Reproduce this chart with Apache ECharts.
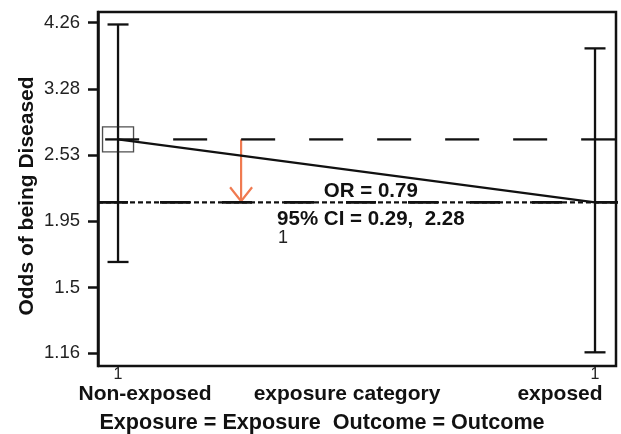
<!DOCTYPE html>
<html>
<head>
<meta charset="utf-8">
<script src="https://cdn.jsdelivr.net/npm/echarts@6/dist/echarts.min.js"></script>
<style>
html,body{margin:0;padding:0;background:#fff;}
#chart{width:621px;height:434px;}
</style>
</head>
<body>
<div id="chart"></div>
<script>
// ---- data ----
const categories = ['Non-exposed', 'exposed'];
const categoryX = [1, 2];
const odds = [2.69, 2.10];          // point estimates (odds of being diseased)
const ciLow = [1.66, 1.163];        // lower 95% limits
const ciHigh = [4.23, 3.85];        // upper 95% limits
const yTicks = [1.16, 1.5, 1.95, 2.53, 3.28, 4.26];
const yRange = [1.102, 4.443];
const xRange = [0.958, 2.044];
const refStartX = 0.973;            // where the long-dashed reference line starts
const lowLineEndX = 2.055;          // short-dashed line runs past the frame
const arrowX = 1.258;
const orText = 'OR = 0.79';
const ciText = '95% CI = 0.29,  2.28';
const xAxisName = 'exposure category';
const footer = 'Exposure = Exposure  Outcome = Outcome';
const yAxisName = 'Odds of being Diseased';

const BOLD = 'Liberation Sans';
const REG = 'Liberation Sans';
const INK = '#111';

const chart = echarts.init(document.getElementById('chart'), null, {renderer: 'canvas'});

const errData = categoryX.map((x, i) => [x, ciLow[i], ciHigh[i]]);

const option = {
  animation: false,
  backgroundColor: '#fff',
  grid: {left: 98, right: 5, top: 12, bottom: 68, show: true, borderColor: INK, borderWidth: 2.5, backgroundColor: 'transparent'},
  xAxis: {
    type: 'value', min: xRange[0], max: xRange[1],
    splitLine: {show: false},
    axisLine: {show: false},
    axisTick: {show: false},
    axisLabel: {
      customValues: categoryX,
      formatter: () => '1',
      fontFamily: REG, fontSize: 16, color: '#222', margin: 1
    },
    name: xAxisName, nameLocation: 'middle', nameGap: 18, nameMoveOverlap: false,
    nameTextStyle: {fontFamily: BOLD, fontWeight: 'bold', fontSize: 21, color: INK, padding: [0, 20, 0, 0]}
  },
  yAxis: {
    type: 'log', logBase: 10, min: yRange[0], max: yRange[1],
    splitLine: {show: false},
    axisLine: {show: true, lineStyle: {color: INK, width: 2.5}},
    axisTick: {show: true, customValues: yTicks, length: 10, lineStyle: {color: INK, width: 2.5}},
    axisLabel: {
      customValues: yTicks,
      formatter: v => String(+(+v).toFixed(2)),
      fontFamily: REG, fontSize: 18.5, color: '#222', margin: 18
    },
    name: yAxisName, nameLocation: 'middle', nameGap: 60, nameRotate: 90, nameMoveOverlap: false,
    nameTextStyle: {fontFamily: BOLD, fontWeight: 'bold', fontSize: 21, color: INK, padding: [0, 14, 0, 0]}
  },
  series: [
    { // long-dashed reference at non-exposed odds
      type: 'line', data: [[refStartX, odds[0]], [xRange[1], odds[0]]],
      symbol: 'none', silent: true,
      lineStyle: {color: INK, width: 2.3, type: [34, 34]}
    },
    { // short-dashed line at exposed odds
      type: 'line', data: [[xRange[0], odds[1]], [lowLineEndX, odds[1]]],
      symbol: 'none', silent: true, clip: false,
      lineStyle: {color: INK, width: 2.3, type: [5, 3]}
    },
    { // overlaid longer dashes on the same line
      type: 'line', data: [[xRange[0], odds[1]], [lowLineEndX, odds[1]]],
      symbol: 'none', silent: true, clip: false,
      lineStyle: {color: INK, width: 2.8, type: [30, 32]}
    },
    { // solid line joining the estimates
      type: 'line', data: categoryX.map((x, i) => [x, odds[i]]),
      symbol: 'none', silent: true,
      lineStyle: {color: INK, width: 2.3}
    },
    { // error bars
      type: 'custom', data: errData, silent: true,
      renderItem: (params, api) => {
        const x = api.value(0), lo = api.value(1), hi = api.value(2);
        const a = api.coord([x, hi]), b = api.coord([x, lo]);
        const w = 10.5;
        const st = {stroke: INK, lineWidth: 2.3};
        return {type: 'group', children: [
          {type: 'line', shape: {x1: a[0], y1: a[1], x2: b[0], y2: b[1]}, style: st},
          {type: 'line', shape: {x1: a[0] - w, y1: a[1], x2: a[0] + w, y2: a[1]}, style: st},
          {type: 'line', shape: {x1: b[0] - w, y1: b[1], x2: b[0] + w, y2: b[1]}, style: st}
        ]};
      }
    },
    { // arrow from reference down to exposed level
      type: 'custom', data: [[arrowX, odds[0], odds[1]]], silent: true,
      renderItem: (params, api) => {
        const x = api.value(0);
        const a = api.coord([x, api.value(1)]), b = api.coord([x, api.value(2)]);
        const tipY = b[1] - 1;
        const st = {stroke: '#F07A50', lineWidth: 2.2, fill: 'none'};
        return {type: 'group', children: [
          {type: 'line', shape: {x1: a[0], y1: a[1], x2: a[0], y2: tipY}, style: st},
          {type: 'polyline', shape: {points: [[a[0] - 11, tipY - 14], [a[0], tipY], [a[0] + 11, tipY - 14]]}, style: st}
        ]};
      }
    },
    { // box marker on the reference group's estimate
      type: 'scatter', data: [[categoryX[0], odds[0]]], silent: true,
      symbol: 'rect', symbolSize: [31, 25],
      itemStyle: {color: 'rgba(0,0,0,0)', borderColor: '#222', borderWidth: 1.2}
    }
  ]
};
chart.setOption(option);

const p1 = chart.convertToPixel({gridIndex: 0}, [categoryX[0], yRange[0]]);
const p2 = chart.convertToPixel({gridIndex: 0}, [categoryX[1], yRange[0]]);
const pOr = chart.convertToPixel({gridIndex: 0}, [1.53, odds[1]]);
const boldFont = 'bold 21px "Liberation Sans"';

chart.setOption({
  graphic: [
    {type: 'text', x: p1[0] + 27, y: 394, style: {text: categories[0], font: boldFont, fill: INK, textAlign: 'center', textVerticalAlign: 'middle'}},
    {type: 'text', x: p2[0] - 35, y: 394, style: {text: categories[1], font: boldFont, fill: INK, textAlign: 'center', textVerticalAlign: 'middle'}},
    {type: 'text', x: 322, y: 423, style: {text: footer, font: 'bold 21.6px "Liberation Sans"', fill: INK, textAlign: 'center', textVerticalAlign: 'middle'}},
    {type: 'text', x: pOr[0], y: pOr[1] - 11, style: {text: orText, font: 'bold 20.5px "Liberation Sans"', fill: INK, textAlign: 'center', textVerticalAlign: 'middle'}},
    {type: 'text', x: pOr[0], y: pOr[1] + 17, style: {text: ciText, font: 'bold 20.5px "Liberation Sans"', fill: INK, textAlign: 'center', textVerticalAlign: 'middle'}},
    {type: 'text', x: 283, y: pOr[1] + 36, style: {text: '1', font: '18px "Liberation Sans"', fill: '#222', textAlign: 'center', textVerticalAlign: 'middle'}}
  ]
});
</script>
</body>
</html>
